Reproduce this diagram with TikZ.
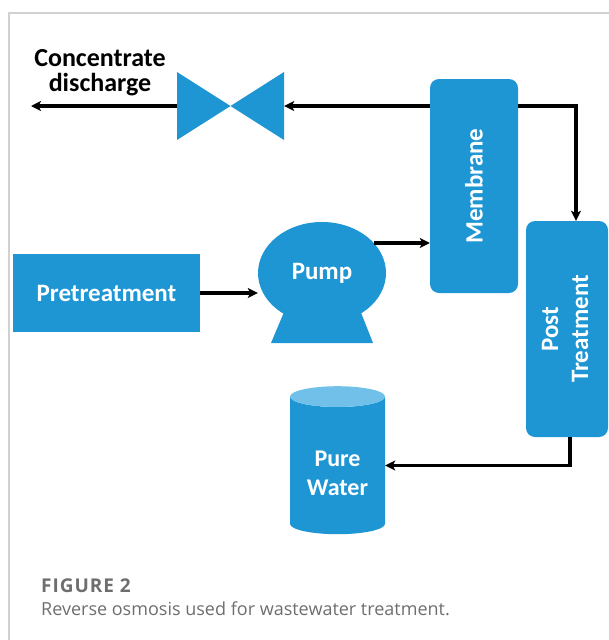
\documentclass[tikz,border=0pt]{standalone}
\usepackage{fontspec}
\setmainfont{Carlito}
\newfontfamily\capfont{Open Sans}
\newfontfamily\figfont[LetterSpace=5]{Open Sans}
\usepackage{graphicx}
\usepackage{xcolor}
\usepackage{tikz}
\usetikzlibrary{shapes.geometric, arrows, arrows.meta, positioning}
\usetikzlibrary{calc}
\definecolor{roBlue}{RGB}{31,150,212}
\definecolor{roLight}{RGB}{112,192,233}
\definecolor{capGray}{RGB}{110,110,110}
\tikzstyle{arrow} = [line width=3.2pt,->,>={Stealth[length=10pt,width=10pt,inset=2.5pt]}]
\tikzstyle{unit} = [rectangle, fill=roBlue, text=white, font=\fontsize{25}{30}\selectfont\bfseries, inner sep=0pt]
\tikzstyle{column} = [unit, rounded corners=9pt]
\newcommand\ppbb{path picture bounding box}
\tikzset{
	valvebox/.style = {rectangle, minimum width=107pt, minimum height=68pt, inner sep=0pt,
		path picture={\fill[roBlue]
			(\ppbb.north west) -- (\ppbb.center) -- (\ppbb.south west) -- cycle
			(\ppbb.north east) -- (\ppbb.center) -- (\ppbb.south east) -- cycle;
		},% end of path picture
	}
}
\tikzset{
tank/.style={cylinder, shape border rotate=90, aspect=0.34, minimum width=95pt, minimum height=148pt, inner sep=0pt,
	cylinder uses custom fill, cylinder body fill=roBlue, cylinder end fill=roLight,
	text=white, font=\fontsize{24}{29}\selectfont\bfseries}
}
\tikzstyle{caption} = [anchor=base west, inner sep=0pt, text=capGray]

\begin{document}
\begin{tikzpicture}[x=1pt, y=-1pt]
\useasboundingbox (0,0) rectangle (609,640);
% outer frame of the figure
\draw [black!18, line width=1.2pt] (9,640) -- (9,13) -- (609,13);
%----------------------------------------------------------------------------
% Placement of process nodes
\node (concLabel) [font=\fontsize{26}{25}\selectfont\bfseries, align=center, inner sep=0pt] at (100,73) {Concentrate\\discharge};
\node (valve) [valvebox] at (230.5,106) {};
\coordinate (outlet) at (31,106);

\node (membrane) [column, minimum width=88pt, minimum height=214pt] at (474,186) {\rotatebox{90}{Membrane}};
\node (postTreat) [column, minimum width=82pt, minimum height=216pt] at (567,329) {\rotatebox{90}{\begin{tabular}{@{}c@{}}Post\\Treatment\end{tabular}}};

\node (pretreat) [unit, minimum width=187pt, minimum height=78pt] at (106.5,293) {Pretreatment};

% pump = base + round body
\fill [roBlue] (287,305) -- (358,305) -- (373,343) -- (271,343) -- cycle;
\node (pump) [ellipse, fill=roBlue, text=white, minimum width=128pt, minimum height=102pt, inner sep=0pt, font=\fontsize{25}{30}\selectfont\bfseries] at (322,273) {Pump};

\node (pureWater) [tank] at (337.5,465.5) {\raisebox{-10pt}[\height][\depth]{\begin{tabular}{@{}c@{}}Pure\\Water\end{tabular}}};

%----------------------------------------------------------------------------
% Caption
\node (figLabel) [caption, font=\figfont\fontsize{19}{23}\selectfont\bfseries] at (41,592) {FIGURE 2};
\node (figCaption) [caption, font=\capfont\fontsize{18}{22}\selectfont] at (41,615) {Reverse osmosis used for wastewater treatment.};

%----------------------------------------------------------------------------
% Drawing of flow lines
\draw [arrow] (pretreat.east) -- (pretreat.east -| pump.west);
\draw [arrow] (pump.30) -- (pump.30 -| membrane.west);
\draw [arrow] (membrane.west |- valve) -- (valve.east);
\draw [arrow] (valve.west) -- (outlet);
\draw [arrow] (membrane.east |- valve) -| ([xshift=9pt]postTreat.north);
\draw [arrow] ([xshift=3pt]postTreat.south) |- (pureWater.east);

\end{tikzpicture}
\end{document}
